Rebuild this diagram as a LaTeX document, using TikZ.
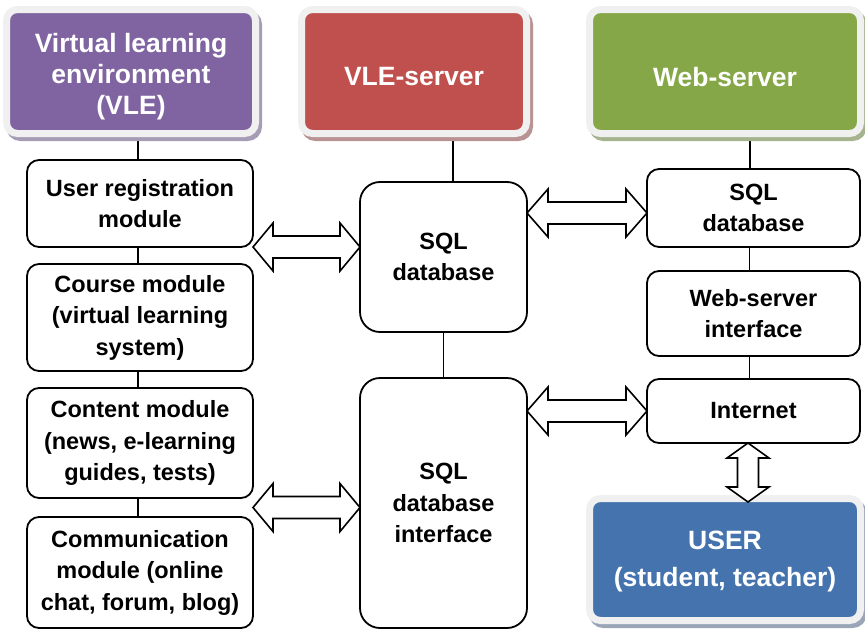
\documentclass[tikz,border=0pt]{standalone}
\usepackage{fontspec}
\setmainfont{Liberation Sans}
\usetikzlibrary{calc,shadows,backgrounds}

\definecolor{vlepurple}{HTML}{8064A2}
\definecolor{vlered}{HTML}{C0504D}
\definecolor{webgreen}{HTML}{86A747}
\definecolor{userblue}{HTML}{4473AE}
\definecolor{framegray}{HTML}{F0F0F0}
\definecolor{purpleshade}{HTML}{A79CB6}
\definecolor{redshade}{HTML}{B99393}
\definecolor{greenshade}{HTML}{A5B38E}
\definecolor{blueshade}{HTML}{9AA6B8}

\tikzset{
  header/.style 2 args={rounded corners=11pt, fill=#1, draw=framegray,
    line width=7pt, inner sep=0pt,
    general shadow={shadow xshift=3pt, shadow yshift=-4pt, fill=#2,
      draw=#2, line width=7pt}},
  headtext/.style={text=white, align=center, inner sep=0pt,
    font=\fontsize{26.5}{31}\selectfont\bfseries},
  module/.style={rounded corners=12pt, draw=black, fill=white,
    line width=1.8pt, align=center, inner sep=0pt,
    font=\fontsize{23.5}{31.5}\selectfont\bfseries},
  link/.style={line width=1.6pt},
  dblarrow/.style={draw=black, fill=white, line width=1.6pt, line join=miter},
}

% double-headed block arrow between two points:
% #1,#2 tips, #3 head length, #4 half head width, #5 half shaft width
\newcommand\blockarrow[5]{%
  \coordinate (da1) at ($(#1)!#3pt!(#2)$);
  \coordinate (da2) at ($(#2)!#3pt!(#1)$);
  \draw[dblarrow] (#1) -- ($(da1)!#4pt!90:(#2)$) -- ($(da1)!#5pt!90:(#2)$)
    -- ($(da2)!#5pt!-90:(#1)$) -- ($(da2)!#4pt!-90:(#1)$) -- (#2)
    -- ($(da2)!#4pt!90:(#1)$) -- ($(da2)!#5pt!90:(#1)$)
    -- ($(da1)!#5pt!-90:(#2)$) -- ($(da1)!#4pt!-90:(#2)$) -- cycle;}

\begin{document}
\begin{tikzpicture}[x=1pt, y=-1pt, every node/.style={outer sep=0pt}]
\useasboundingbox (0,0) rectangle (865,629);

% coloured header boxes
\node[header={vlepurple}{purpleshade}, minimum width=249, minimum height=124] (vle) at (131,71.5) {};
\node[headtext] (vle-t) at ($(vle.center)+(0,5)$) {Virtual learning\\environment\\(VLE)};
\node[header={vlered}{redshade}, minimum width=225, minimum height=124] (vles) at (414,71.5) {};
\node[headtext] (vles-t) at ($(vles.center)+(0,5.5)$) {VLE-server};
\node[header={webgreen}{greenshade}, minimum width=271, minimum height=124] (webs) at (725,71.5) {};
\node[headtext] (webs-t) at ($(webs.center)+(0,5.5)$) {Web-server};
\node[header={userblue}{blueshade}, minimum width=271, minimum height=122] (user) at (725,559.5) {};
\node[headtext] (user-t) at ($(user.center)+(0,2)$) {USER\\[6pt](student, teacher)};

% VLE modules
\node[module, minimum width=226, minimum height=87]  (ur)  at (140,203.5) {User registration\\module};
\node[module, minimum width=226, minimum height=107] (cm)  at (140,317.5) {Course module\\(virtual learning\\system)};
\node[module, minimum width=226, minimum height=110] (ct)  at (140,443)   {Content module\\(news, e-learning\\guides, tests)};
\node[module, minimum width=226, minimum height=111] (cmm) at (140,572.5) {Communication\\module (online\\chat, forum, blog)};

% VLE-server parts
\node[module, rounded corners=20pt, minimum width=167, minimum height=150] (db)  at (443.5,257) {SQL\\database};
\node[module, rounded corners=20pt, minimum width=167, minimum height=250] (dbi) at (443.5,503) {SQL\\database\\interface};

% Web-server parts
\node[module, minimum width=213, minimum height=78] (sql2) at (753.5,208)   {SQL\\database};
\node[module, minimum width=213, minimum height=85] (wsi)  at (753.5,313.5) {Web-server\\interface};
\node[module, minimum width=213, minimum height=64] (inet) at (753.5,411)   {Internet};

% plain connecting lines
\begin{scope}[on background layer]
  \draw[link] ([xshift=-2pt]ur.north) -- ([xshift=-2pt]ur.north |- vle.south);
  \draw[link] ([xshift=-2pt]ur.south) -- ([xshift=-2pt]cm.north);
  \draw[link] ([xshift=-2pt]cm.south) -- ([xshift=-2pt]ct.north);
  \draw[link] ([xshift=-2pt]ct.south) -- ([xshift=-2pt]cmm.north);
  \draw[link] ([xshift=9.5pt]db.north) -- ([xshift=9.5pt]db.north |- vles.south);
  \draw[link] (db.south) -- (dbi.north);
  \draw[link] ([xshift=-3.5pt]sql2.north) -- ([xshift=-3.5pt]sql2.north |- webs.south);
  \draw[link] ([xshift=-4pt]sql2.south) -- ([xshift=-4pt]wsi.north);
  \draw[link] ([xshift=-4pt]wsi.south) -- ([xshift=-4pt]inet.north);
\end{scope}

% block arrows
\coordinate (a1l) at (ur.south east);
\coordinate (a1r) at (db.west |- a1l);
\blockarrow{a1l}{a1r}{20}{24}{11}
\coordinate (a2l) at ($(ct.south east)!0.5!(cmm.north east)$);
\coordinate (a2r) at (dbi.west |- a2l);
\blockarrow{a2l}{a2r}{20}{24}{11}
\coordinate (a3r) at ($(sql2.west)+(0,5)$);
\coordinate (a3l) at (db.east |- a3r);
\blockarrow{a3l}{a3r}{21}{24}{11}
\coordinate (a4r) at (inet.west);
\coordinate (a4l) at (dbi.east |- a4r);
\blockarrow{a4l}{a4r}{21}{24}{11}
\coordinate (a5t) at ($(inet.south)+(-5.5,0)$);
\coordinate (a5b) at ($(a5t |- user.north)+(0,3.5)$);
\blockarrow{a5t}{a5b}{15}{21}{10.5}
\end{tikzpicture}
\end{document}
